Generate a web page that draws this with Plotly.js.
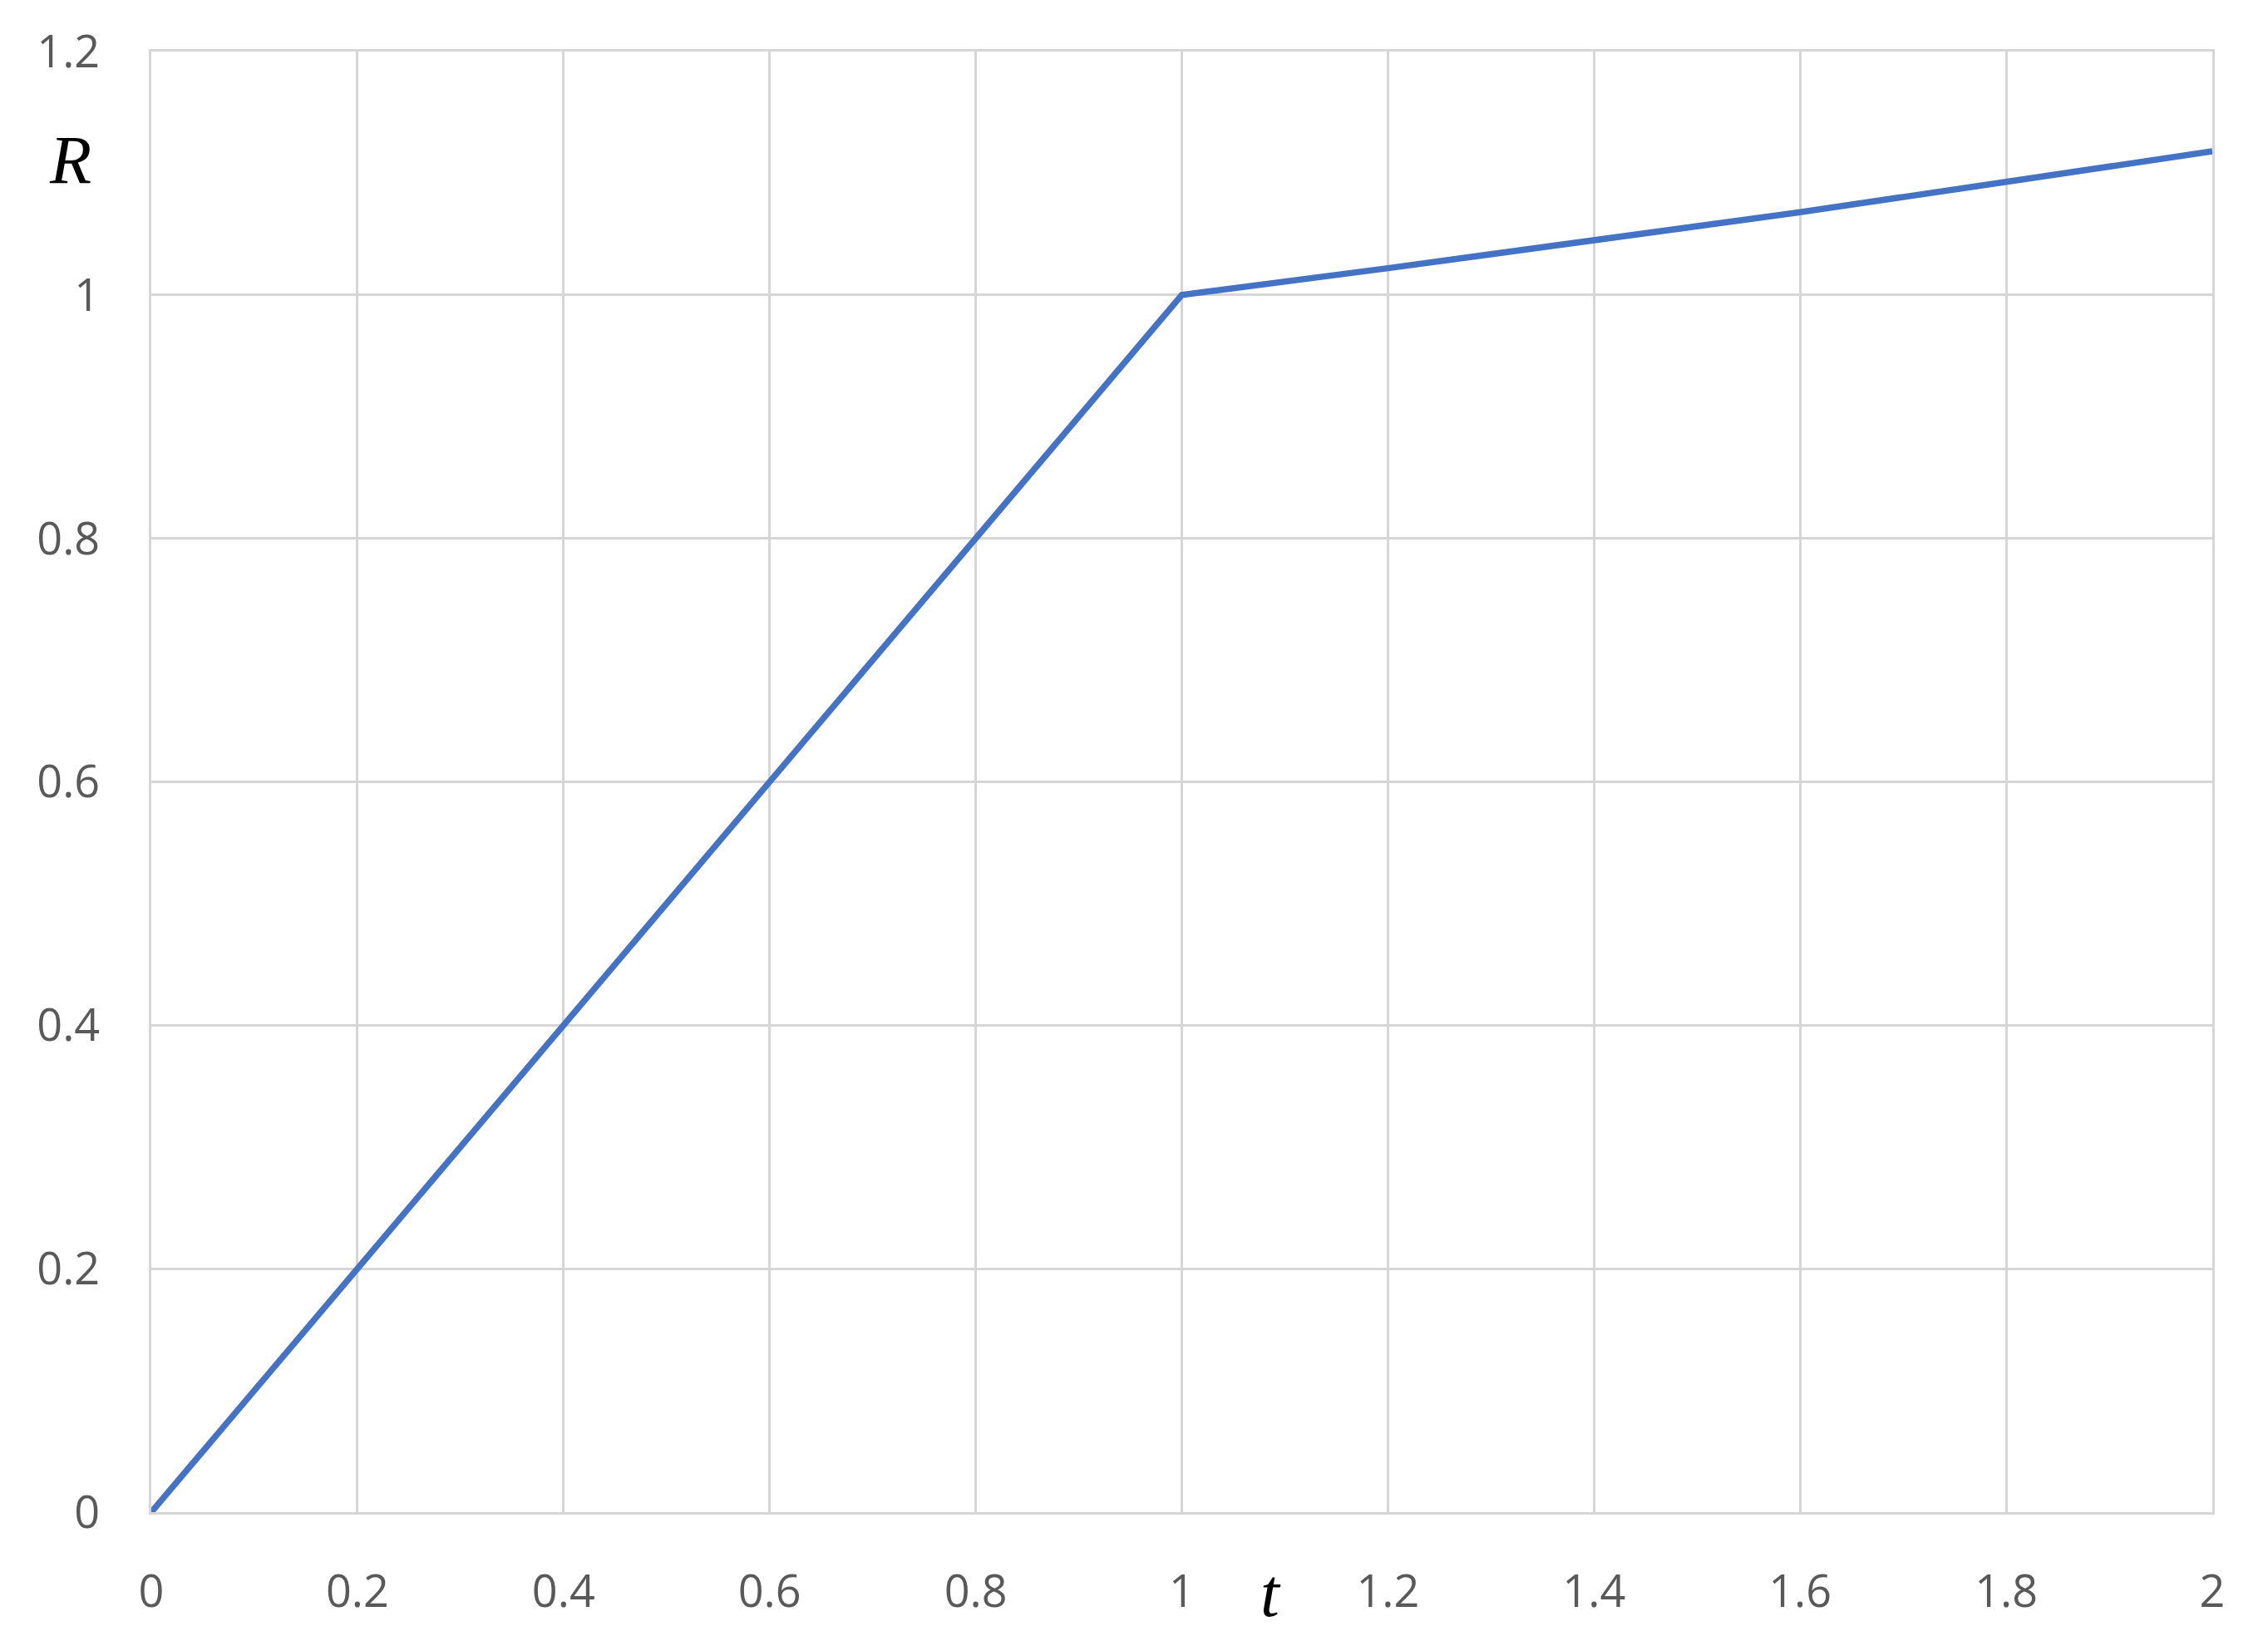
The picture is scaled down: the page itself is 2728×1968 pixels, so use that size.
<!DOCTYPE html>
<html>
<head>
<meta charset="utf-8">
<script src="https://cdn.plot.ly/plotly-3.0.1.min.js"></script>
<style>
  html, body { margin: 0; padding: 0; background: #ffffff; }
  #graph { width: 2728px; height: 1968px; }
</style>
</head>
<body>
<div id="graph"></div>
<script>
// 読み取ったデータ
const tValues = [0, 1, 1.2, 1.4, 1.6, 1.8, 2];
const rValues = [0, 1, 1.022, 1.045, 1.068, 1.093, 1.118];
const xTicks = [0, 0.2, 0.4, 0.6, 0.8, 1, 1.2, 1.4, 1.6, 1.8, 2];
const xTickText = ["0", "0.2", "0.4", "0.6", "0.8", "1", "1.2", "1.4", "1.6", "1.8", "2"];
const yTicks = [0, 0.2, 0.4, 0.6, 0.8, 1, 1.2];
const yTickText = ["0", "0.2", "0.4", "0.6", "0.8", "1", "1.2"];

const gridColor = "#d6d6d6";
const tickFont = { family: "Open Sans, Liberation Sans, sans-serif", size: 54, color: "#595959" };
const mathFont = { family: "Liberation Serif, DejaVu Serif, serif", size: 82, color: "#000000" };

const trace = {
  x: tValues,
  y: rValues,
  mode: "lines",
  type: "scatter",
  line: { color: "#4472C4", width: 7.5 },
  hoverinfo: "skip",
};

const layout = {
  width: 2728,
  height: 1968,
  margin: { l: 182, r: 67, t: 62, b: 149 },
  paper_bgcolor: "#ffffff",
  plot_bgcolor: "#ffffff",
  showlegend: false,
  xaxis: {
    range: [0, 2],
    tickvals: xTicks,
    ticktext: xTickText,
    ticks: "",
    tickfont: tickFont,
    ticklabelstandoff: 46,
    showgrid: true,
    gridcolor: gridColor,
    gridwidth: 3,
    zeroline: false,
    showline: true,
    mirror: true,
    linecolor: gridColor,
    linewidth: 3,
  },
  yaxis: {
    range: [0, 1.2],
    tickvals: yTicks,
    ticktext: yTickText,
    ticks: "",
    tickfont: tickFont,
    ticklabelstandoff: 48,
    showgrid: true,
    gridcolor: gridColor,
    gridwidth: 3,
    zeroline: false,
    showline: true,
    mirror: true,
    linecolor: gridColor,
    linewidth: 3,
  },
  annotations: [
    {
      text: "<i>R</i>",
      xref: "paper", x: 0, xanchor: "right", xshift: -70,
      yref: "y", y: 1.111, yanchor: "middle",
      showarrow: false,
      font: mathFont,
    },
    {
      text: "<i>t</i>",
      xref: "x", x: 1.086, xanchor: "center",
      yref: "paper", y: 0, yanchor: "top", yshift: -50,
      showarrow: false,
      font: mathFont,
    },
  ],
};

Plotly.newPlot("graph", [trace], layout, { staticPlot: true });
</script>
</body>
</html>
